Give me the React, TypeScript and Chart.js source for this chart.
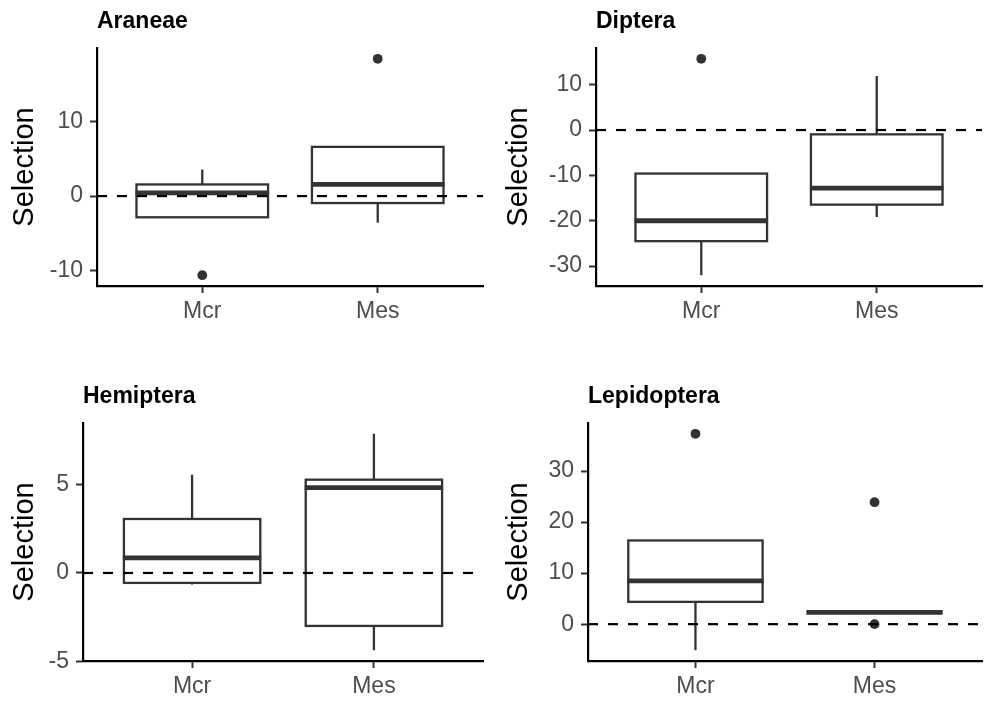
import React, { useEffect, useRef } from 'react';
import { Chart, registerables } from 'chart.js';

Chart.register(...registerables);
Chart.defaults.font.family = '"Liberation Sans", Arial, sans-serif';

// ---------- data ----------
const categories = ['Mcr', 'Mes'];
const yAxisTitle = 'Selection';

// Araneae
const araneaeLow = [-2.84, -3.56];
const araneaeQ1 = [-2.84, -0.93];
const araneaeMedian = [0.44, 1.56];
const araneaeQ3 = [1.56, 6.6];
const araneaeHigh = [3.56, 6.6];
const araneaeOutliers = [[-10.6], [18.4]];
const araneaeTicks = [-10, 0, 10];

// Diptera
const dipteraLow = [-32.0, -19.2];
const dipteraQ1 = [-24.5, -16.45];
const dipteraMedian = [-20.0, -12.8];
const dipteraQ3 = [-9.6, -0.95];
const dipteraHigh = [-9.6, 11.9];
const dipteraOutliers = [[15.7], []];
const dipteraTicks = [-30, -20, -10, 0, 10];

// Hemiptera
const hemipteraLow = [-0.65, -4.36];
const hemipteraQ1 = [-0.56, -2.99];
const hemipteraMedian = [0.85, 4.82];
const hemipteraQ3 = [3.05, 5.27];
const hemipteraHigh = [5.55, 7.86];
const hemipteraOutliers = [[], []];
const hemipteraTicks = [-5, 0, 5];

// Lepidoptera
const lepidopteraLow = [-5.1, 2.29];
const lepidopteraQ1 = [4.37, 2.29];
const lepidopteraMedian = [8.48, 2.29];
const lepidopteraQ3 = [16.4, 2.29];
const lepidopteraHigh = [16.4, 2.29];
const lepidopteraOutliers = [[37.3], [23.9, 0]];
const lepidopteraTicks = [0, 10, 20, 30];

const referenceLine = 0;

type PanelData = {
  title: string;
  low: number[];
  q1: number[];
  median: number[];
  q3: number[];
  high: number[];
  outliers: number[][];
  ticks: number[];
};

const panels: PanelData[] = [
  { title: 'Araneae', low: araneaeLow, q1: araneaeQ1, median: araneaeMedian, q3: araneaeQ3, high: araneaeHigh, outliers: araneaeOutliers, ticks: araneaeTicks },
  { title: 'Diptera', low: dipteraLow, q1: dipteraQ1, median: dipteraMedian, q3: dipteraQ3, high: dipteraHigh, outliers: dipteraOutliers, ticks: dipteraTicks },
  { title: 'Hemiptera', low: hemipteraLow, q1: hemipteraQ1, median: hemipteraMedian, q3: hemipteraQ3, high: hemipteraHigh, outliers: hemipteraOutliers, ticks: hemipteraTicks },
  { title: 'Lepidoptera', low: lepidopteraLow, q1: lepidopteraQ1, median: lepidopteraMedian, q3: lepidopteraQ3, high: lepidopteraHigh, outliers: lepidopteraOutliers, ticks: lepidopteraTicks },
];

// ---------- layout (canvas placement and plot frames) ----------
type Frame = { x: number; y: number; w: number; h: number; left: number; top: number; right: number; bottom: number };
const frames: Frame[] = [
  { x: 0, y: 0, w: 494, h: 351, left: 97, top: 48, right: 11, bottom: 65 },
  { x: 494, y: 0, w: 493, h: 351, left: 102, top: 48, right: 5, bottom: 65 },
  { x: 0, y: 351, w: 494, h: 351, left: 83, top: 72, right: 11, bottom: 41 },
  { x: 494, y: 351, w: 493, h: 351, left: 94, top: 72, right: 5, bottom: 41 },
];

const INK = '#333333';
const TICK_TEXT = '#4D4D4D';

function Panel({ data, frame }: { data: PanelData; frame: Frame }) {
  const ref = useRef<HTMLCanvasElement>(null);

  useEffect(() => {
    const canvas = ref.current;
    if (!canvas) return;
    const all = [...data.low, ...data.high, ...data.outliers.flat(), referenceLine];
    const mn = Math.min(...all);
    const mx = Math.max(...all);
    const pad = (mx - mn) * 0.05;
    const points = data.outliers.flatMap((arr, i) => arr.map((v) => ({ x: i + 1, y: v })));

    const boxPlugin = {
      id: 'boxes',
      beforeDatasetsDraw(chart: any) {
        const { ctx } = chart;
        const xs = chart.scales.x;
        const ys = chart.scales.y;
        ctx.save();
        categories.forEach((_, i) => {
          const cx = xs.getPixelForValue(i + 1);
          const x0 = xs.getPixelForValue(i + 1 - 0.375);
          const x1 = xs.getPixelForValue(i + 1 + 0.375);
          const yLow = ys.getPixelForValue(data.low[i]);
          const yQ1 = ys.getPixelForValue(data.q1[i]);
          const yMed = ys.getPixelForValue(data.median[i]);
          const yQ3 = ys.getPixelForValue(data.q3[i]);
          const yHigh = ys.getPixelForValue(data.high[i]);
          ctx.strokeStyle = INK;
          ctx.lineWidth = 2.3;
          ctx.setLineDash([]);
          ctx.beginPath();
          ctx.moveTo(cx, yQ3);
          ctx.lineTo(cx, yHigh);
          ctx.moveTo(cx, yQ1);
          ctx.lineTo(cx, yLow);
          ctx.stroke();
          ctx.fillStyle = '#ffffff';
          ctx.fillRect(x0, yQ3, x1 - x0, yQ1 - yQ3);
          ctx.strokeRect(x0, yQ3, x1 - x0, yQ1 - yQ3);
          ctx.lineWidth = 4.8;
          ctx.lineCap = 'butt';
          ctx.beginPath();
          ctx.moveTo(x0 - 1, yMed);
          ctx.lineTo(x1 + 1, yMed);
          ctx.stroke();
        });
        ctx.restore();
      },
      afterDatasetsDraw(chart: any) {
        const { ctx, chartArea } = chart;
        const ys = chart.scales.y;
        const y0 = ys.getPixelForValue(referenceLine);
        ctx.save();
        ctx.strokeStyle = '#000000';
        ctx.lineWidth = 2.2;
        ctx.setLineDash([10, 10]);
        ctx.beginPath();
        ctx.moveTo(chartArea.left, y0);
        ctx.lineTo(chartArea.right, y0);
        ctx.stroke();
        ctx.restore();
      },
      afterDraw(chart: any) {
        const { ctx, chartArea } = chart;
        ctx.save();
        ctx.fillStyle = '#000000';
        ctx.font = 'bold 23px "Liberation Sans", Arial, sans-serif';
        ctx.textAlign = 'left';
        ctx.textBaseline = 'alphabetic';
        ctx.fillText(data.title, chartArea.left, chartArea.top - 20.5);
        ctx.restore();
      },
    };

    const chart = new Chart(canvas, {
      type: 'scatter',
      data: {
        datasets: [
          {
            data: points,
            pointRadius: 4.9,
            pointHoverRadius: 4.9,
            backgroundColor: INK,
            borderColor: INK,
            borderWidth: 0,
          },
        ],
      },
      options: {
        animation: false,
        responsive: false,
        events: [],
        layout: { padding: { top: frame.top, right: frame.right, left: 0, bottom: 0 } },
        plugins: { legend: { display: false }, tooltip: { enabled: false }, title: { display: false } },
        scales: {
          x: {
            type: 'linear',
            min: 0.4,
            max: 2.6,
            afterBuildTicks: (s: any) => {
              s.ticks = categories.map((_, i) => ({ value: i + 1 }));
            },
            afterFit: (s: any) => {
              s.height = frame.bottom;
            },
            ticks: {
              callback: (v: any) => categories[Math.round(Number(v)) - 1] ?? '',
              color: TICK_TEXT,
              font: { size: 23 },
              padding: 5,
              maxRotation: 0,
              autoSkip: false,
            },
            grid: { drawOnChartArea: false, drawTicks: true, tickLength: 7, tickColor: INK, tickWidth: 2 },
            border: { display: true, color: '#000000', width: 2.2 },
          },
          y: {
            type: 'linear',
            min: mn - pad,
            max: mx + pad,
            afterBuildTicks: (s: any) => {
              s.ticks = data.ticks.map((v) => ({ value: v }));
            },
            afterFit: (s: any) => {
              s.width = frame.left;
            },
            ticks: {
              color: TICK_TEXT,
              font: { size: 23 },
              padding: 7,
              callback: (v: any) => String(v),
            },
            title: {
              display: true,
              text: yAxisTitle,
              color: '#000000',
              font: { size: 29 },
              padding: { top: 8, bottom: 0 },
            },
            grid: { drawOnChartArea: false, drawTicks: true, tickLength: 7, tickColor: INK, tickWidth: 2 },
            border: { display: true, color: '#000000', width: 2.2 },
          },
        },
      },
      plugins: [boxPlugin],
    } as any);

    return () => chart.destroy();
  }, [data, frame]);

  return (
    <canvas
      ref={ref}
      width={frame.w}
      height={frame.h}
      style={{ position: 'absolute', left: frame.x, top: frame.y, width: frame.w, height: frame.h }}
    />
  );
}

export default function App() {
  return (
    <div style={{ position: 'fixed', left: 0, top: 0, width: 987, height: 702, background: '#ffffff' }}>
      {panels.map((p, i) => (
        <Panel key={p.title} data={p} frame={frames[i]} />
      ))}
    </div>
  );
}
